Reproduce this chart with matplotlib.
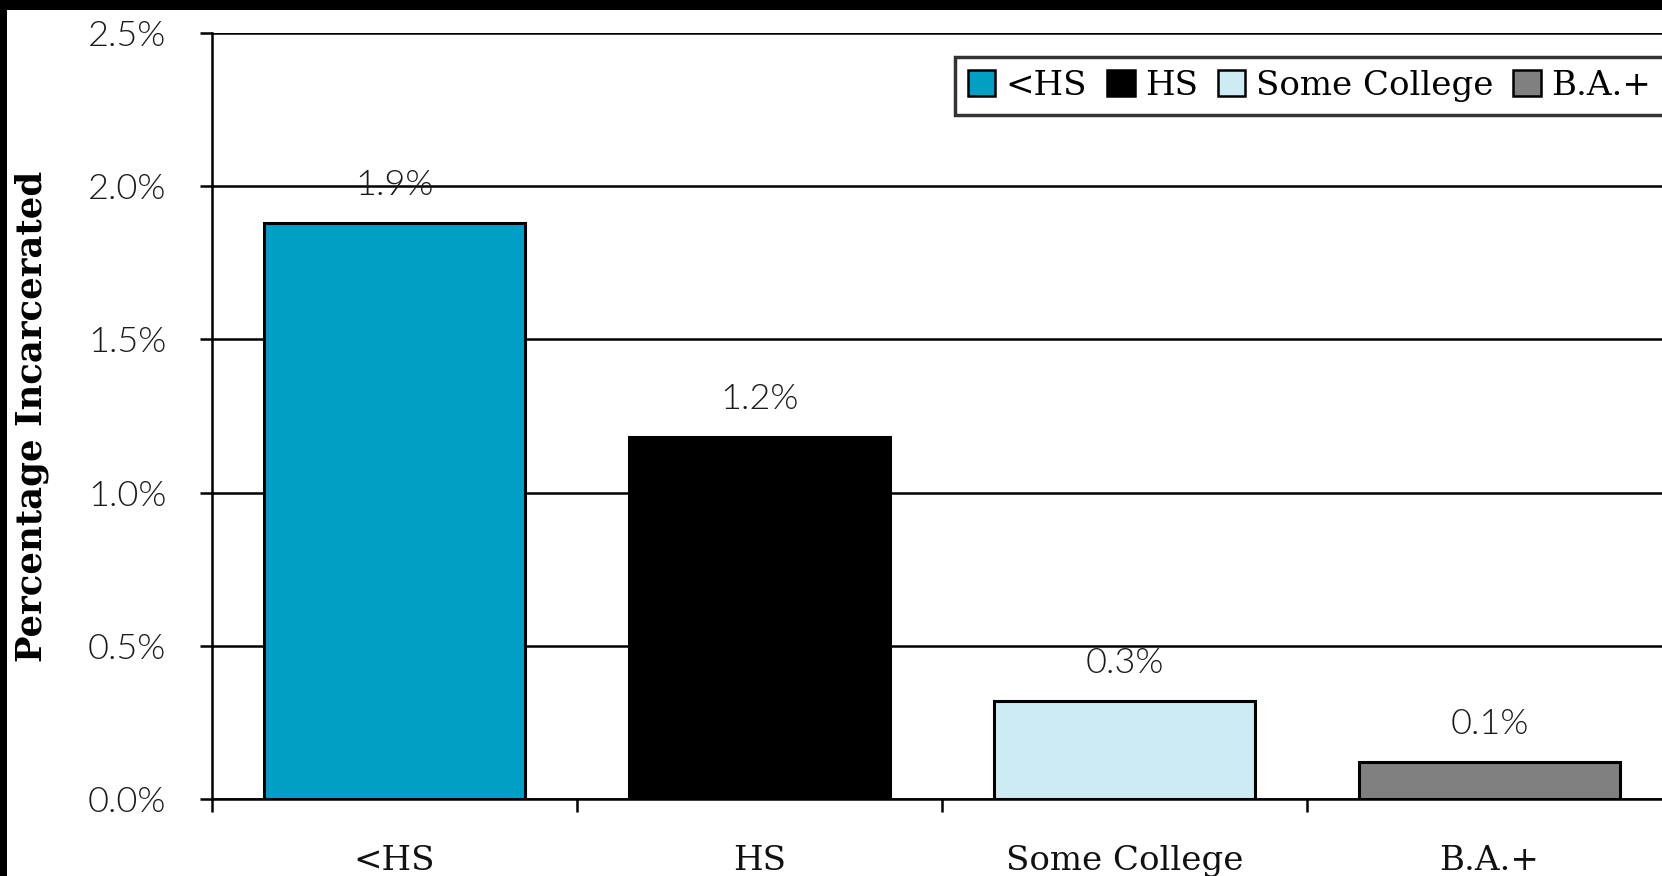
import numpy as np
import matplotlib
matplotlib.use("Agg")
import matplotlib.pyplot as plt
from matplotlib.patches import Rectangle

# data
categories = ["<HS", "HS", "Some College", "B.A.+"]
values = [1.88, 1.18, 0.32, 0.12]
value_labels = ["1.9%", "1.2%", "0.3%", "0.1%"]
colors = ["#00A0C6", "#000000", "#CDEBF3", "#808080"]
y_ticks = [0.0, 0.5, 1.0, 1.5, 2.0, 2.5]

W, H = 1662, 876
fig = plt.figure(figsize=(W / 100, H / 100), dpi=100)
fig.patch.set_facecolor("black")
# white page with black frame on the left and top
fig.patches.append(Rectangle((7 / W, 0), 1, 1 - 10 / H, transform=fig.transFigure,
                             facecolor="white", edgecolor="none", zorder=-10))

cat_w = 365
ax = fig.add_axes([212 / W, (H - 799) / H, 4 * cat_w / W, (799 - 33) / H])
ax.set_facecolor("none")

x = np.arange(len(categories))
bars = ax.bar(x, values, width=0.715, color=colors, edgecolor="black",
              linewidth=2.2, label=categories, zorder=3)

num_font = dict(family="Lato", weight=300, size=26, color="#1a1a1a")
for b, lab in zip(bars, value_labels):
    ax.annotate(lab, (b.get_x() + b.get_width() / 2, b.get_height()),
                xytext=(0, 16), textcoords="offset points",
                ha="center", va="bottom", **num_font)

ax.set_xlim(-0.5, len(categories) - 0.5)
ax.set_ylim(0, 2.5)
ax.set_yticks(y_ticks)
ax.set_yticklabels([f"{v:.1f}%" for v in y_ticks], **num_font)
ax.yaxis.grid(True, color="black", linewidth=1.8, zorder=0)
ax.set_axisbelow(True)

ax.set_xticks(x)
ax.set_xticklabels(categories, family="DejaVu Serif", size=24.5, color="#111111")
ax.set_xticks(np.arange(-0.5, len(categories)), minor=True)
ax.tick_params(axis="x", which="major", length=0, pad=33)
ax.tick_params(axis="x", which="minor", length=9, width=1.8, direction="out")
ax.tick_params(axis="y", length=9, width=1.8, direction="out", pad=24)

for s in ["top", "right"]:
    ax.spines[s].set_visible(False)
for s in ["left", "bottom"]:
    ax.spines[s].set_linewidth(1.8)

fig.text(32 / W, 1 - 416 / H, "Percentage Incarcerated", rotation=90,
         ha="center", va="center", family="DejaVu Serif", weight="bold", size=25.5)

leg = ax.legend(loc="upper left", bbox_to_anchor=(955 / W, 1 - 57 / H),
                bbox_transform=fig.transFigure, ncol=4, frameon=True,
                fancybox=False, borderaxespad=0, handlelength=0.8,
                handleheight=0.8, handletextpad=0.3, columnspacing=0.6,
                borderpad=0.38, prop=dict(family="DejaVu Serif", size=24.5))
leg.get_frame().set_edgecolor("black")
leg.get_frame().set_linewidth(2.5)
for h in leg.legend_handles:
    h.set_linewidth(1.8)

fig.savefig("out.png", dpi=100, facecolor=fig.get_facecolor())
